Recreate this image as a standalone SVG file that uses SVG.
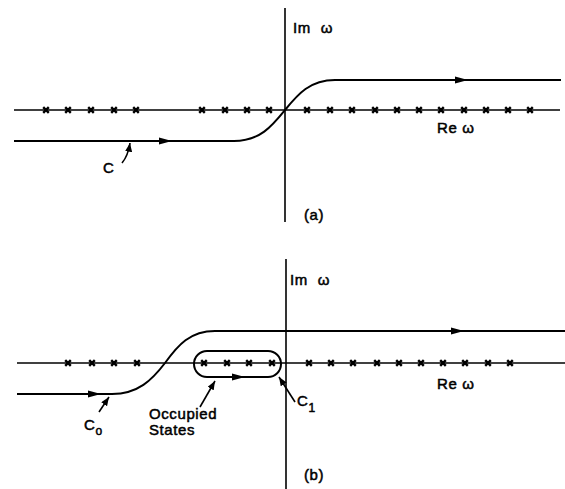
<svg xmlns="http://www.w3.org/2000/svg" width="565" height="489" viewBox="0 0 565 489">
<style>
.ln{fill:none;stroke:#000;stroke-width:2}
.ax{fill:none;stroke:#000;stroke-width:1.6}
.x{stroke:#000;stroke-width:2.4;fill:none}
.ah{fill:#000}
text{font-family:"Liberation Sans",Arial,sans-serif;font-size:15px;letter-spacing:0.6px;fill:#000;stroke:#000;stroke-width:0.5}
</style>
<defs>
<marker id="tip" viewBox="0 0 10 8" refX="10" refY="4" markerWidth="9" markerHeight="7" markerUnits="userSpaceOnUse" orient="auto"><path d="M0,0 L10,4 L0,8 Z" fill="#000"/></marker>
<path id="cr" d="M-2.8,-2.8 L2.8,2.8 M-2.8,2.8 L2.8,-2.8" class="x"/>
</defs>
<g id="panel-a">
<g id="axes-a">
<line class="ax" x1="285" y1="8" x2="285" y2="222"/>
<line class="ax" x1="14" y1="110" x2="560" y2="110"/>
</g>
<g id="poles-a">
<use href="#cr" x="46" y="110"/><use href="#cr" x="68" y="110"/><use href="#cr" x="91" y="110"/><use href="#cr" x="114" y="110"/><use href="#cr" x="136" y="110"/>
<use href="#cr" x="202" y="110"/><use href="#cr" x="225" y="110"/><use href="#cr" x="247" y="110"/><use href="#cr" x="269" y="110"/>
<use href="#cr" x="307" y="110"/><use href="#cr" x="330" y="110"/><use href="#cr" x="352" y="110"/><use href="#cr" x="375" y="110"/><use href="#cr" x="397" y="110"/><use href="#cr" x="419" y="110"/><use href="#cr" x="441" y="110"/><use href="#cr" x="464" y="110"/><use href="#cr" x="486" y="110"/><use href="#cr" x="508" y="110"/><use href="#cr" x="530" y="110"/>
</g>
<g id="connectors-a">
<path class="ln" d="M14,141 H234 C260,141 272,126 285,110 C298,94 310,80 335,80 H561"/>
<path class="ah" d="M159,137.5 L172,141 L159,144.5 Z"/>
<path class="ah" d="M455,76.5 L468,80 L455,83.5 Z"/>
<path class="ax" d="M122,163 Q128,156 130,143" marker-end="url(#tip)"/>
</g>
<g id="labels-a">
<text x="293" y="33">Im <tspan dx="5">ω</tspan></text>
<text x="437" y="133">Re ω</text>
<text x="103" y="173">C</text>
<text x="304" y="220">(a)</text>
</g>
</g>
<g id="panel-b">
<g id="axes-b">
<line class="ax" x1="286" y1="259" x2="286" y2="489"/>
<line class="ax" x1="17" y1="363" x2="565" y2="363"/>
</g>
<g id="poles-b">
<use href="#cr" x="68" y="363"/><use href="#cr" x="92" y="363"/><use href="#cr" x="114" y="363"/><use href="#cr" x="137" y="363"/>
<use href="#cr" x="204" y="363"/><use href="#cr" x="227" y="363"/><use href="#cr" x="249" y="363"/><use href="#cr" x="272" y="363"/>
<use href="#cr" x="309" y="363"/><use href="#cr" x="331" y="363"/><use href="#cr" x="353" y="363"/><use href="#cr" x="377" y="363"/><use href="#cr" x="399" y="363"/><use href="#cr" x="421" y="363"/><use href="#cr" x="443" y="363"/><use href="#cr" x="465" y="363"/><use href="#cr" x="488" y="363"/><use href="#cr" x="510" y="363"/>
</g>
<g id="connectors-b">
<path class="ln" d="M17,394 H112 C138,394 152,380 165,363 C178,345 190,331 215,331 H565"/>
<path class="ah" d="M88,390.5 L101,394 L88,397.5 Z"/>
<path class="ah" d="M451,327.5 L464,331 L451,334.5 Z"/>
<rect class="ln" x="194" y="351" width="87" height="26" rx="13" ry="13"/>
<path class="ah" d="M232,373.5 L245,377 L232,380.5 Z"/>
<path class="ax" d="M99,412 L109,397" marker-end="url(#tip)"/>
<path class="ax" d="M200,407 L215,381" marker-end="url(#tip)"/>
<path class="ax" d="M295,402 L279,377" marker-end="url(#tip)"/>
</g>
<g id="labels-b">
<text x="290" y="285">Im <tspan dx="5">ω</tspan></text>
<text x="437" y="389">Re ω</text>
<text x="84" y="430">C<tspan font-size="12" dy="5">o</tspan></text>
<text x="297" y="406">C<tspan font-size="12" dy="6">1</tspan></text>
<text x="149" y="419">Occupied</text>
<text x="149" y="435">States</text>
<text x="304" y="480">(b)</text>
</g>
</g>
</svg>
